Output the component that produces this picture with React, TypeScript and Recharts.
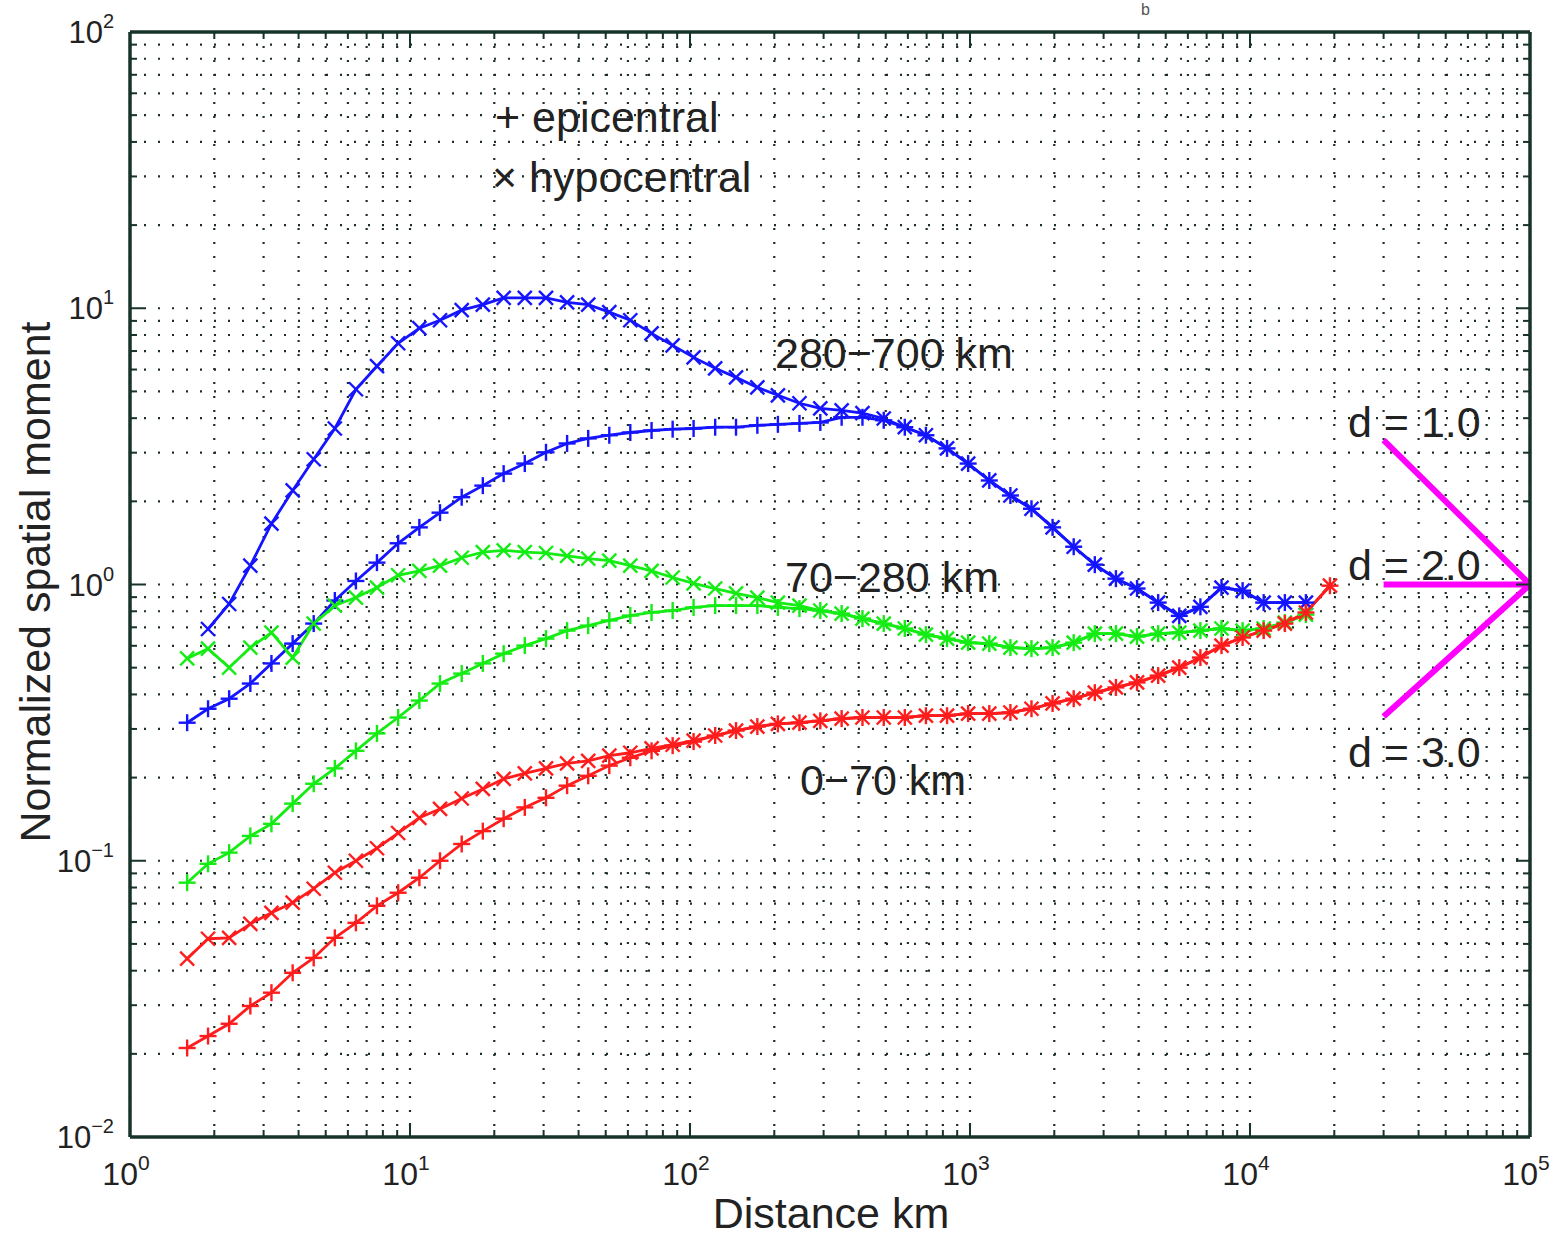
import React from "react";
import { LineChart, Line, XAxis, YAxis, CartesianGrid } from "recharts";

const W = 1566;
const H = 1237;
const FRAME = "#17332a";
const INK = "#222";
const FONT = "'Liberation Sans', Arial, Helvetica, sans-serif";

// distance bins (km)
const DIST = [
    1.6, 1.9, 2.26, 2.69, 3.2, 3.81, 4.53, 5.39, 6.41, 7.62,
    9.07, 10.8, 12.8, 15.3, 18.2, 21.6, 25.7, 30.6, 36.4, 43.3,
    51.5, 61.2, 72.9, 86.7, 103, 123, 146, 174, 206, 246,
    292, 348, 413, 492, 585, 696, 828, 985, 1172, 1394,
    1658, 1972, 2346, 2791, 3320, 3950, 4699, 5590, 6650, 7911,
    9410, 11190, 13320, 15840, 19300
];

// 280-700 km
const BLUE_HYPO = [
    null, 0.69, 0.85, 1.17, 1.66, 2.19, 2.84, 3.67, 5.09, 6.17,
    7.47, 8.47, 9.05, 9.84, 10.3, 10.9, 10.9, 10.9, 10.5, 10.3,
    9.68, 9.05, 8.11, 7.34, 6.64, 6.06, 5.62, 5.17, 4.84, 4.53,
    4.34, 4.27, 4.17, 3.99, 3.71, 3.47, 3.11, 2.74, 2.38, 2.1,
    1.88, 1.61, 1.37, 1.18, 1.05, 0.967, 0.86, 0.77, 0.83, 0.975,
    0.95, 0.86, 0.86, 0.86, null
];
const BLUE_EPI = [
    0.316, 0.355, 0.386, 0.438, 0.518, 0.611, 0.722, 0.875, 1.03, 1.2,
    1.41, 1.61, 1.82, 2.07, 2.28, 2.52, 2.74, 3.01, 3.24, 3.38,
    3.47, 3.55, 3.61, 3.65, 3.67, 3.71, 3.71, 3.77, 3.8, 3.83,
    3.86, 4.03, 4.03, 3.93, 3.71, 3.47, 3.11, 2.74, 2.38, 2.1,
    1.88, 1.61, 1.37, 1.18, 1.05, 0.967, 0.86, 0.77, 0.83, 0.975,
    0.95, 0.86, 0.86, 0.86, null
];

// 70-280 km
const GREEN_HYPO = [
    0.54, 0.586, 0.5, 0.591, 0.67, 0.544, 0.722, 0.839, 0.897, 0.975,
    1.08, 1.12, 1.17, 1.25, 1.31, 1.33, 1.31, 1.3, 1.27, 1.24,
    1.22, 1.17, 1.12, 1.06, 1.01, 0.967, 0.928, 0.897, 0.86, 0.839,
    0.805, 0.785, 0.753, 0.722, 0.693, 0.659, 0.637, 0.616, 0.611, 0.591,
    0.586, 0.591, 0.616, 0.664, 0.664, 0.648, 0.664, 0.67, 0.681, 0.693,
    0.681, 0.693, 0.728, 0.778, null
];
const GREEN_EPI = [
    0.0833, 0.0975, 0.107, 0.123, 0.136, 0.161, 0.19, 0.216, 0.25, 0.289,
    0.33, 0.38, 0.438, 0.476, 0.518, 0.562, 0.601, 0.637, 0.681, 0.71,
    0.741, 0.772, 0.792, 0.805, 0.826, 0.839, 0.839, 0.839, 0.826, 0.818,
    0.805, 0.785, 0.753, 0.722, 0.693, 0.659, 0.637, 0.616, 0.611, 0.591,
    0.586, 0.591, 0.616, 0.664, 0.664, 0.648, 0.664, 0.67, 0.681, 0.693,
    0.681, 0.693, 0.728, 0.778, null
];

// 0-70 km
const RED_HYPO = [
    0.0442, 0.0522, 0.0526, 0.0591, 0.0648, 0.0705, 0.0792, 0.0905, 0.1, 0.111,
    0.126, 0.143, 0.154, 0.168, 0.182, 0.198, 0.207, 0.216, 0.225, 0.23,
    0.24, 0.246, 0.255, 0.263, 0.272, 0.284, 0.296, 0.306, 0.313, 0.316,
    0.321, 0.327, 0.33, 0.33, 0.33, 0.335, 0.335, 0.341, 0.341, 0.344,
    0.355, 0.371, 0.386, 0.406, 0.424, 0.442, 0.468, 0.5, 0.544, 0.601,
    0.643, 0.681, 0.722, 0.792, 0.99
];
const RED_EPI = [
    0.021, 0.0232, 0.0257, 0.0298, 0.0333, 0.0393, 0.0445, 0.0526, 0.0596, 0.0687,
    0.0766, 0.0868, 0.1, 0.115, 0.128, 0.142, 0.156, 0.169, 0.187, 0.203,
    0.221, 0.236, 0.25, 0.261, 0.27, 0.284, 0.296, 0.306, 0.313, 0.316,
    0.321, 0.327, 0.33, 0.33, 0.33, 0.335, 0.335, 0.341, 0.341, 0.344,
    0.355, 0.371, 0.386, 0.406, 0.424, 0.442, 0.468, 0.5, 0.544, 0.601,
    0.643, 0.681, 0.722, 0.792, 0.99
];

// reference slopes d = 1, 2, 3
const SLOPE_X = [30000, 100000];
const D1 = [3.33, 1];
const D2 = [1, 1];
const D3 = [0.333, 1];

const X_TICKS = [
    1, 2, 3, 4, 5, 6, 7, 8, 9,
    10, 20, 30, 40, 50, 60, 70, 80, 90,
    100, 200, 300, 400, 500, 600, 700, 800, 900,
    1000, 2000, 3000, 4000, 5000, 6000, 7000, 8000, 9000,
    10000, 20000, 30000, 40000, 50000, 60000, 70000, 80000, 90000,
    100000
];
const Y_TICKS = [
    0.01, 0.02, 0.03, 0.04, 0.05, 0.06, 0.07, 0.08, 0.09,
    0.1, 0.2, 0.3, 0.4, 0.5, 0.6, 0.7, 0.8, 0.9,
    1, 2, 3, 4, 5, 6, 7, 8, 9,
    10, 20, 30, 40, 50, 60, 70, 80, 90,
    100
];

const toPoints = (xs: number[], ys: (number | null)[]) =>
    xs.map((x, i) => ({ x, y: ys[i] })).filter(p => p.y !== null);

const isPow10 = (v: number) => {
    const l = Math.log10(v);
    return Math.abs(l - Math.round(l)) < 1e-9;
};
const expLabel = (v: number) => {
    const e = Math.round(Math.log10(v));
    return e < 0 ? `\u2212${-e}` : `${e}`;
};

const MAJOR = 14;
const MINOR = 7;

const BottomTick = (props: any) => {
    const { x, y, payload } = props;
    const major = isPow10(payload.value);
    return (
        <g>
            <line x1={x} x2={x} y1={y} y2={y - (major ? MAJOR : MINOR)} stroke={FRAME} strokeWidth={2} />
            {major && (
                <text x={x - 4} y={y + 48} textAnchor="middle" fontSize={32} fill={INK} fontFamily={FONT}>
                    10<tspan dy={-15} fontSize={21}>{expLabel(payload.value)}</tspan>
                </text>
            )}
        </g>
    );
};

const TopTick = (props: any) => {
    const { x, y, payload } = props;
    const major = isPow10(payload.value);
    return <line x1={x} x2={x} y1={y} y2={y + (major ? MAJOR : MINOR)} stroke={FRAME} strokeWidth={2} />;
};

const LeftTick = (props: any) => {
    const { x, y, payload } = props;
    const major = isPow10(payload.value);
    return (
        <g>
            <line x1={x} x2={x + (major ? MAJOR : MINOR)} y1={y} y2={y} stroke={FRAME} strokeWidth={2} />
            {major && (
                <text x={x - 16} y={y + 11} textAnchor="end" fontSize={31} fill={INK} fontFamily={FONT}>
                    10<tspan dy={-15} fontSize={20}>{expLabel(payload.value)}</tspan>
                </text>
            )}
        </g>
    );
};

const RightTick = (props: any) => {
    const { x, y, payload } = props;
    const major = isPow10(payload.value);
    return <line x1={x} x2={x - (major ? MAJOR : MINOR)} y1={y} y2={y} stroke={FRAME} strokeWidth={2} />;
};

const marker = (kind: "plus" | "cross", color: string, id: string) => (p: any) => {
    const { cx, cy, index } = p;
    if (cx == null || cy == null) return <g key={`${id}-${index}`} />;
    const s = kind === "plus" ? 8.5 : 7;
    return kind === "plus" ? (
        <g key={`${id}-${index}`} stroke={color} strokeWidth={2.4}>
            <line x1={cx - s} x2={cx + s} y1={cy} y2={cy} />
            <line x1={cx} x2={cx} y1={cy - s} y2={cy + s} />
        </g>
    ) : (
        <g key={`${id}-${index}`} stroke={color} strokeWidth={2.4}>
            <line x1={cx - s} x2={cx + s} y1={cy - s} y2={cy + s} />
            <line x1={cx - s} x2={cx + s} y1={cy + s} y2={cy - s} />
        </g>
    );
};

const BLUE = "#1414ff";
const GREEN = "#14ec14";
const RED = "#ff1c1c";
const MAGENTA = "#ff00ff";

const series = [
    { id: "bh", data: toPoints(DIST, BLUE_HYPO), color: BLUE, kind: "cross" as const },
    { id: "be", data: toPoints(DIST, BLUE_EPI), color: BLUE, kind: "plus" as const },
    { id: "gh", data: toPoints(DIST, GREEN_HYPO), color: GREEN, kind: "cross" as const },
    { id: "ge", data: toPoints(DIST, GREEN_EPI), color: GREEN, kind: "plus" as const },
    { id: "rh", data: toPoints(DIST, RED_HYPO), color: RED, kind: "cross" as const },
    { id: "re", data: toPoints(DIST, RED_EPI), color: RED, kind: "plus" as const },
];

const slopes = [D1, D2, D3].map(ys => toPoints(SLOPE_X, ys));

// axes are 1px thick so recharts still draws them (0 size is skipped)
export default function App() {
    const textStyle = { fontFamily: FONT, fill: INK, fontSize: 43 };
    return (
        <div style={{ position: "absolute", left: 0, top: 0, width: W, height: H, background: "#fff" }}>
            <LineChart width={W} height={H} margin={{ top: 31, right: 35, bottom: 99, left: 129 }}>
                <CartesianGrid xAxisId="b" yAxisId="l" stroke="#1f2d27" strokeWidth={2.2} strokeDasharray="2 12" />
                <XAxis
                    xAxisId="b"
                    dataKey="x"
                    type="number"
                    scale="log"
                    domain={[1, 100000]}
                    allowDataOverflow
                    ticks={X_TICKS}
                    interval={0}
                    height={1}
                    tickSize={0}
                    tickMargin={0}
                    tick={<BottomTick />}
                    axisLine={{ stroke: FRAME, strokeWidth: 3.5 }}
                />
                <XAxis
                    xAxisId="t"
                    orientation="top"
                    dataKey="x"
                    type="number"
                    scale="log"
                    domain={[1, 100000]}
                    allowDataOverflow
                    ticks={X_TICKS}
                    interval={0}
                    height={1}
                    tickSize={0}
                    tickMargin={0}
                    tick={<TopTick />}
                    axisLine={{ stroke: FRAME, strokeWidth: 3.5 }}
                />
                <YAxis
                    yAxisId="l"
                    type="number"
                    scale="log"
                    domain={[0.01, 100]}
                    allowDataOverflow
                    ticks={Y_TICKS}
                    interval={0}
                    width={1}
                    tickSize={0}
                    tickMargin={0}
                    tick={<LeftTick />}
                    axisLine={{ stroke: FRAME, strokeWidth: 3.5 }}
                />
                <YAxis
                    yAxisId="r"
                    orientation="right"
                    type="number"
                    scale="log"
                    domain={[0.01, 100]}
                    allowDataOverflow
                    ticks={Y_TICKS}
                    interval={0}
                    width={1}
                    tickSize={0}
                    tickMargin={0}
                    tick={<RightTick />}
                    axisLine={{ stroke: FRAME, strokeWidth: 3.5 }}
                />
                {series.map(s => (
                    <Line
                        key={s.id}
                        xAxisId="b"
                        yAxisId="l"
                        data={s.data}
                        dataKey="y"
                        type="linear"
                        stroke={s.color}
                        strokeWidth={2.8}
                        dot={marker(s.kind, s.color, s.id)}
                        activeDot={false}
                        isAnimationActive={false}
                    />
                ))}
                {slopes.map((d, i) => (
                    <Line
                        key={`slope-${i}`}
                        xAxisId="b"
                        yAxisId="l"
                        data={d}
                        dataKey="y"
                        type="linear"
                        stroke={MAGENTA}
                        strokeWidth={6}
                        dot={false}
                        activeDot={false}
                        isAnimationActive={false}
                    />
                ))}
            </LineChart>
            <svg width={W} height={H} style={{ position: "absolute", left: 0, top: 0, pointerEvents: "none" }}>
                <text x={1141} y={15} fontSize={16} fill="#555" fontFamily={FONT}>b</text>
                <text x={495} y={132} {...textStyle}>+ epicentral</text>
                <text x={492} y={192} {...textStyle}>{"\u00d7 hypocentral"}</text>
                <text x={775} y={368} {...textStyle}>{"280\u2212700 km"}</text>
                <text x={785} y={592} {...textStyle}>{"70\u2212280 km"}</text>
                <text x={800} y={795} {...textStyle}>{"0\u221270 km"}</text>
                <text x={1348} y={437} {...textStyle}>d = 1.0</text>
                <text x={1348} y={580} {...textStyle}>d = 2.0</text>
                <text x={1348} y={767} {...textStyle}>d = 3.0</text>
                <text x={831} y={1228} textAnchor="middle" {...textStyle}>Distance km</text>
                <text transform="translate(50,582) rotate(-90)" textAnchor="middle" {...textStyle}>
                    Normalized spatial moment
                </text>
            </svg>
        </div>
    );
}
